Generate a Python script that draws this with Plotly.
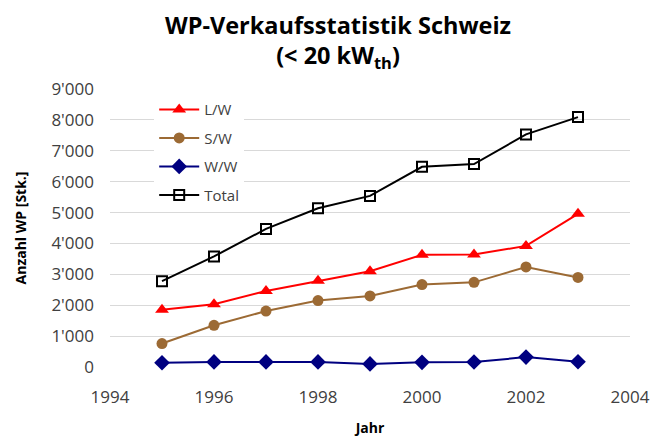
import plotly.graph_objects as go

years = [1995, 1996, 1997, 1998, 1999, 2000, 2001, 2002, 2003]
lw = [1850, 2030, 2460, 2790, 3100, 3630, 3640, 3920, 4960]
sw = [760, 1350, 1810, 2150, 2300, 2670, 2740, 3240, 2900]
ww = [140, 165, 165, 165, 100, 150, 160, 320, 170]
total = [2780, 3580, 4470, 5140, 5540, 6480, 6570, 7530, 8090]

font = "Open Sans, Noto Sans, sans-serif"

fig = go.Figure()
fig.add_trace(go.Scatter(x=years, y=lw, name="L/W", mode="lines+markers", legendgroup="a",
                         line=dict(color="#FF0000", width=2),
                         marker=dict(symbol="triangle-up", size=12, color="#FF0000")))
fig.add_trace(go.Scatter(x=years, y=sw, name="S/W", mode="lines+markers", legendgroup="b",
                         line=dict(color="#9C6A34", width=2),
                         marker=dict(symbol="circle", size=11, color="#9C6A34")))
fig.add_trace(go.Scatter(x=years, y=ww, name="W/W", mode="lines+markers", legendgroup="c",
                         line=dict(color="#000080", width=2),
                         marker=dict(symbol="diamond", size=12, color="#000080")))
fig.add_trace(go.Scatter(x=years, y=total, name="Total", mode="lines+markers", legendgroup="d",
                         line=dict(color="#000000", width=2),
                         marker=dict(symbol="square-open", size=10, color="#000000",
                                     line=dict(width=2, color="#000000"))))

for tr in fig.data:
    tr.cliponaxis = False

fig.update_layout(
    width=660, height=437,
    margin=dict(l=102, r=38, t=81, b=78, autoexpand=False),
    paper_bgcolor="white", plot_bgcolor="white",
    separators=".'",
    font=dict(family=font, color="#000000"),
    title=dict(text="<b>WP-Verkaufsstatistik Schweiz<br>(< 20 kW<sub>th</sub>)</b>",
               x=0.5, xanchor="center", y=0.941, yanchor="top", automargin=False,
               font=dict(size=23.5, family=font, color="#000000")),
    legend=dict(x=0.085, y=0.985, xanchor="left", yanchor="top",
                bgcolor="white", font=dict(size=15, family=font, color="#404040"),
                itemwidth=40, tracegroupgap=6),
    showlegend=True,
)
fig.update_xaxes(range=[1994, 2004], dtick=2, tick0=1994, showgrid=False, zeroline=False,
                 showline=False, ticks="", tickfont=dict(size=17, color="#404040"),
                 automargin=False, ticklabelstandoff=18,
                 title=dict(text="<b>Jahr</b>", font=dict(size=14, color="#000000"), standoff=16))
fig.update_yaxes(range=[0, 9000], dtick=1000, tickformat=",", showgrid=True,
                 gridcolor="#D9D9D9", gridwidth=1, zeroline=False, showline=False, ticks="",
                 tickfont=dict(size=17, color="#404040"), automargin=False, ticklabelstandoff=15,
                 title=dict(text="<b>Anzahl WP [Stk.]</b>", font=dict(size=14, color="#000000"), standoff=21))

fig.write_html("out.html")
